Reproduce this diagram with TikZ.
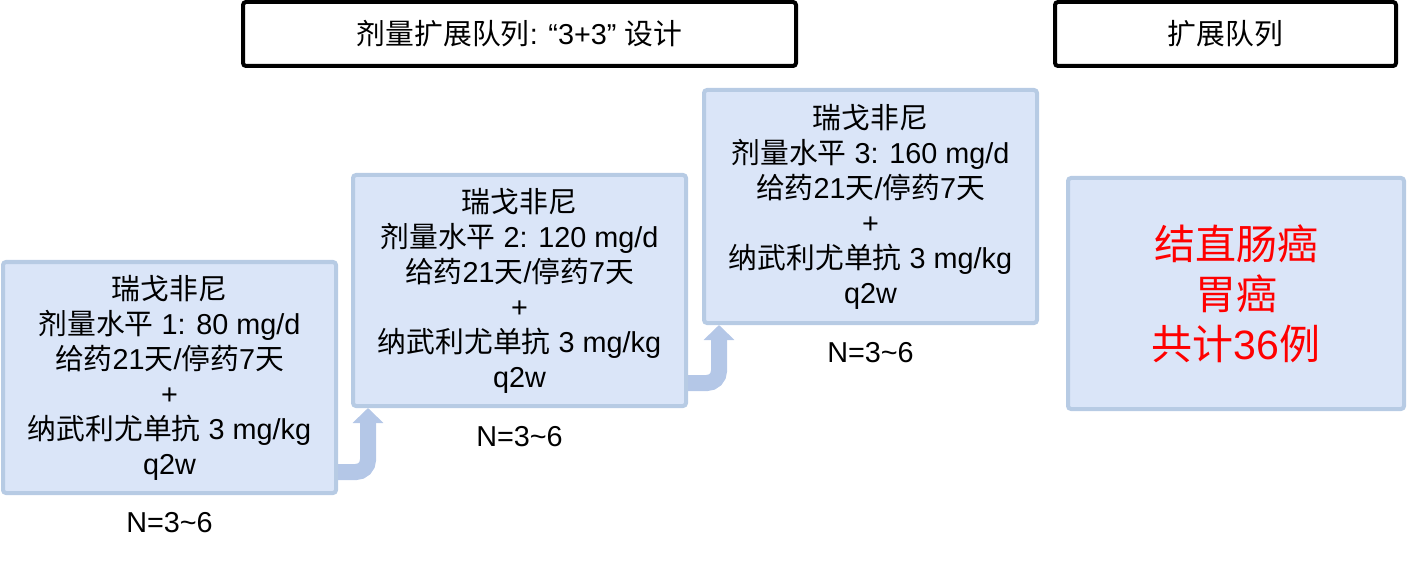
\documentclass[tikz,border=0pt]{standalone}
\usepackage{fontspec}
\setmainfont{Liberation Sans}
\newfontfamily\cjk{Noto Sans CJK SC}
\newcommand\zh[1]{{\cjk #1}}
\usetikzlibrary{arrows.meta,calc}
\definecolor{cellfill}{HTML}{DAE5F8}
\definecolor{celledge}{HTML}{B7CBE4}
\definecolor{arrowblue}{HTML}{B4C7E7}
\tikzset{
  cell/.style={draw=celledge, fill=cellfill, line width=4pt, rounded corners=3pt,
    minimum width=333pt, minimum height=231pt, align=center, inner sep=0pt,
    font=\fontsize{28.8}{35}\selectfont},
  header/.style={draw=black, line width=4pt, rounded corners=3pt, minimum height=64pt,
    align=center, inner sep=0pt, font=\fontsize{28.8}{35}\selectfont},
  nlabel/.style={font=\fontsize{28.8}{35}\selectfont, inner sep=0pt},
  flow/.style={draw=arrowblue, line width=16pt, rounded corners=12pt,
    -{Triangle[width=30pt,length=15pt]}},
}
\begin{document}
\begin{tikzpicture}[x=1pt,y=1pt]
\useasboundingbox (0,0) rectangle (1407,-569);
\node[header, minimum width=553pt] (h1) at (519.5,-34) {\zh{剂量扩展队列}: “3+3” \zh{设计}};
\node[header, minimum width=341pt] (h2) at (1225.5,-34) {\zh{扩展队列}};

\node[cell] (b1) at (169.5,-377.5) {\zh{瑞戈非尼}\\ \zh{剂量水平} 1: 80 mg/d\\ \zh{给药}21\zh{天}/\zh{停药}7\zh{天}\\ +\\ \zh{纳武利尤单抗} 3 mg/kg\\ q2w};
\node[cell] (b2) at (519.5,-290.5) {\zh{瑞戈非尼}\\ \zh{剂量水平} 2: 120 mg/d\\ \zh{给药}21\zh{天}/\zh{停药}7\zh{天}\\ +\\ \zh{纳武利尤单抗} 3 mg/kg\\ q2w};
\node[cell, minimum height=233pt] (b3) at (870.5,-206.5) {\zh{瑞戈非尼}\\ \zh{剂量水平} 3: 160 mg/d\\ \zh{给药}21\zh{天}/\zh{停药}7\zh{天}\\ +\\ \zh{纳武利尤单抗} 3 mg/kg\\ q2w};
\node[cell, minimum width=336pt, text=red, font=\fontsize{41}{50}\selectfont] (r) at (1236,-293.5) {\zh{结直肠癌}\\ \zh{胃癌}\\ \zh{共计}36\zh{例}};

\node[nlabel] (n1) at (169.5,-523) {N=3\textasciitilde 6};
\node[nlabel] (n2) at (519.5,-437) {N=3\textasciitilde 6};
\node[nlabel] (n3) at (870.5,-353) {N=3\textasciitilde 6};

\coordinate (a1) at ($(b1.south east)+(0,23)$);
\coordinate (a2) at ($(b2.south east)+(0,25)$);
\draw[flow] (a1) -| ([xshift=17pt]b2.south west);
\draw[flow] (a2) -| ([xshift=17pt]b3.south west);
\end{tikzpicture}
\end{document}
